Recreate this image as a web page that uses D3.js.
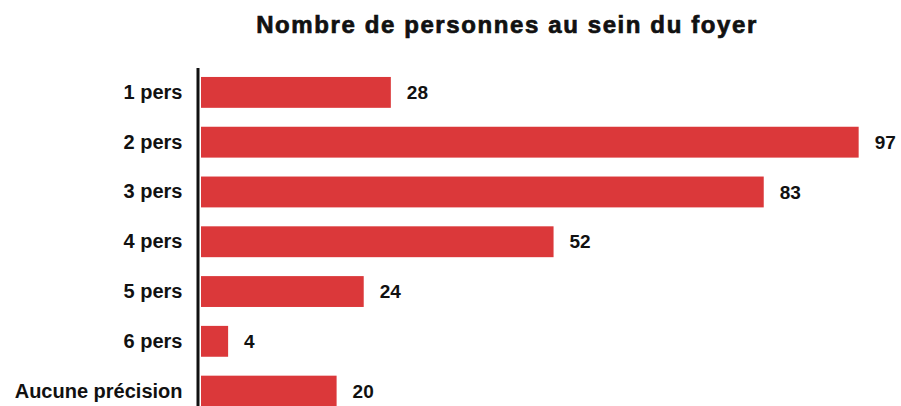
<!DOCTYPE html>
<html lang="fr">
  <head>
    <meta charset="utf-8">
    <title>Nombre de personnes au sein du foyer</title>
    <script src="https://d3js.org/d3.v7.min.js"></script>
    <style>
      body { margin: 0; background: #fff; }
      text { font-family: "Liberation Sans", Arial, sans-serif; font-weight: bold; fill: #111; }
    </style>
  </head>
  <body>
    <script>
      var categories = ["1 pers", "2 pers", "3 pers", "4 pers", "5 pers", "6 pers", "Aucune précision"];
      var values = [28, 97, 83, 52, 24, 4, 20];
      var title = "Nombre de personnes au sein du foyer";

      var width = 901;
      var height = 406;

      var svg = d3.select("body")
        .append("svg")
        .attr("width", width)
        .attr("height", height);

      var x = d3.scaleLinear()
        .domain([0, 100])
        .range([201, 879]);

      var y = d3.scaleBand()
        .domain(categories)
        .range([67.5, 416])
        .paddingInner(0.38)
        .paddingOuter(0.19);

      // title, a bit heavier than plain bold
      svg.append("text")
        .attr("x", 507)
        .attr("y", 33)
        .attr("text-anchor", "middle")
        .attr("stroke", "#111")
        .attr("stroke-width", 0.7)
        .style("font-size", "24px")
        .style("letter-spacing", "1.6px")
        .text(title);

      svg.selectAll("rect.bar")
        .data(values)
        .enter()
        .append("rect")
          .attr("class", "bar")
          .attr("x", x(0))
          .attr("y", function(d, i) { return y(categories[i]); })
          .attr("width", function(d) { return x(d) - x(0); })
          .attr("height", y.bandwidth())
          .attr("fill", "#db383a");

      svg.selectAll("text.val")
        .data(values)
        .enter()
        .append("text")
          .attr("class", "val")
          .attr("x", function(d) { return x(d) + 16; })
          .attr("y", function(d, i) { return y(categories[i]) + y.bandwidth() / 2; })
          .attr("dy", "0.35em")
          .style("font-size", "19px")
          .text(function(d) { return d; });

      var axis = svg.append("g")
        .attr("transform", "translate(" + (x(0) - 3.5) + ",0)")
        .call(d3.axisLeft(y).tickSize(0).tickPadding(15));

      axis.select(".domain")
        .attr("stroke", "#111")
        .attr("stroke-width", 3);

      axis.selectAll(".tick text")
        .style("font-size", "20px")
        .style("font-family", "'Liberation Sans', Arial, sans-serif")
        .style("font-weight", "bold")
        .attr("fill", "#111");
    </script>
  </body>
</html>
